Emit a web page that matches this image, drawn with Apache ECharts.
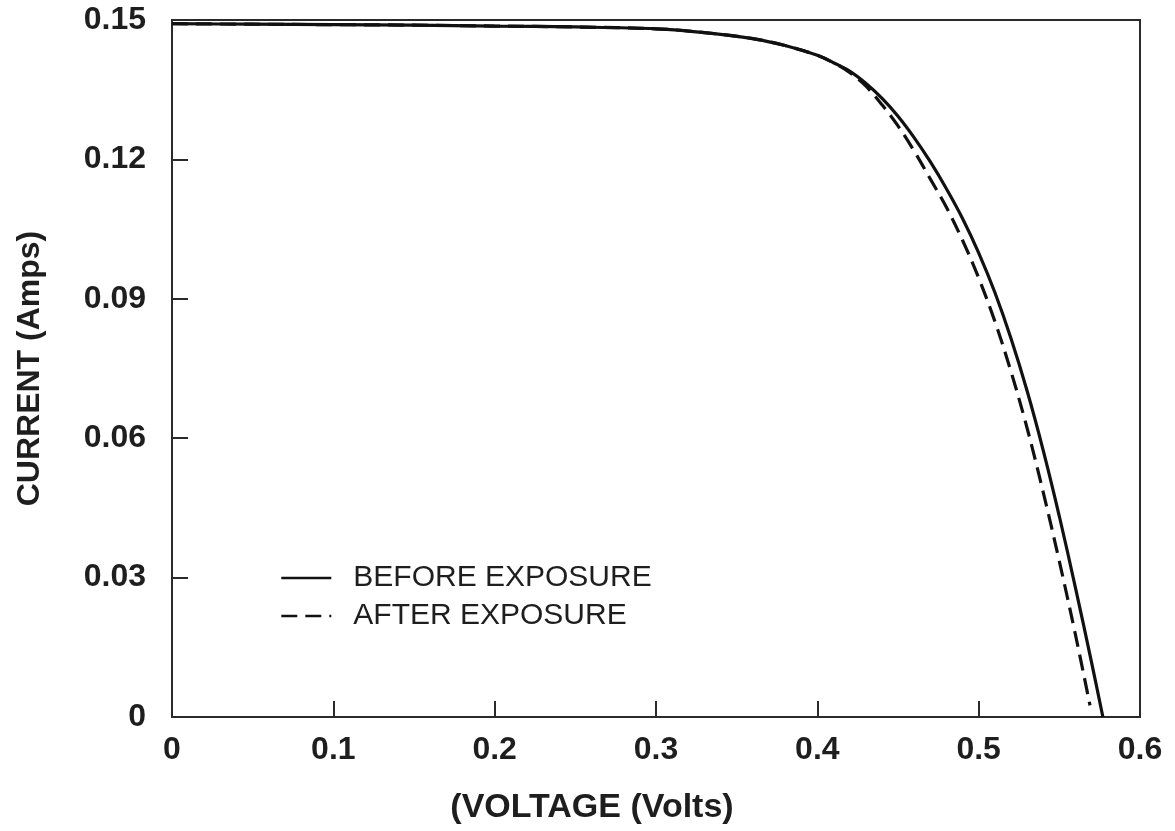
<!DOCTYPE html>
<html>
<head>
<meta charset="utf-8">
<script src="https://cdn.jsdelivr.net/npm/echarts@6/dist/echarts.min.js"></script>
<style>
html,body{margin:0;padding:0;background:#fff;}
#chart{width:1175px;height:831px;}
</style>
</head>
<body>
<div id="chart"></div>
<script>
// Data
const beforeV = [0, 0.05, 0.10, 0.15, 0.20, 0.25, 0.30, 0.33, 0.36, 0.38, 0.40, 0.41, 0.42, 0.43, 0.44, 0.45, 0.46, 0.47, 0.48, 0.49, 0.50, 0.51, 0.52, 0.53, 0.54, 0.55, 0.56, 0.57, 0.577];
const beforeI = [0.1492, 0.1491, 0.1490, 0.1489, 0.1487, 0.1485, 0.1481, 0.1473, 0.1460, 0.1445, 0.1424, 0.1408, 0.1390, 0.1364, 0.1332, 0.1293, 0.1247, 0.1195, 0.1137, 0.1073, 0.0999, 0.0914, 0.0815, 0.0702, 0.0574, 0.0432, 0.0278, 0.0117, 0];
const afterV = [0, 0.05, 0.10, 0.15, 0.20, 0.25, 0.30, 0.33, 0.36, 0.38, 0.40, 0.41, 0.42, 0.43, 0.44, 0.45, 0.46, 0.47, 0.48, 0.49, 0.50, 0.51, 0.52, 0.53, 0.54, 0.55, 0.56, 0.569];
const afterI = [0.1492, 0.1491, 0.1490, 0.1489, 0.1487, 0.1485, 0.1481, 0.1473, 0.1460, 0.1445, 0.1424, 0.1408, 0.1387, 0.1358, 0.1318, 0.1272, 0.1218, 0.1158, 0.1097, 0.1026, 0.0945, 0.0852, 0.0744, 0.0622, 0.0484, 0.0335, 0.0177, 0.0025];
const seriesNames = ['BEFORE EXPOSURE', 'AFTER EXPOSURE'];
const xTicks = ['0', '0.1', '0.2', '0.3', '0.4', '0.5', '0.6'];
const yTicks = ['0', '0.03', '0.06', '0.09', '0.12', '0.15'];
const xTitle = '(VOLTAGE (Volts)';
const yTitle = 'CURRENT (Amps)';

const pair = (xs, ys) => xs.map((x, i) => [x, ys[i]]);
const FONT = '"Liberation Sans", Arial, Helvetica, sans-serif';
const TXT = '#1e1e1e';
const LINE = '#111111';

const chart = echarts.init(document.getElementById('chart'), null, {renderer: 'canvas'});
chart.setOption({
  backgroundColor: '#ffffff',
  animation: false,
  grid: {left: 172, right: 35, top: 20, bottom: 114, show: true, borderColor: '#2a2a2a', borderWidth: 2, backgroundColor: 'transparent'},
  legend: {
    data: seriesNames,
    orient: 'vertical',
    left: 280,
    top: 563,
    padding: 0,
    itemWidth: 50,
    itemHeight: 14,
    itemGap: 8,
    itemStyle: {opacity: 0},
    lineStyle: {width: 2.6},
    textStyle: {fontFamily: FONT, fontSize: 30, color: TXT, padding: [0, 0, 0, 17], lineHeight: 30},
    inactiveColor: '#999'
  },
  xAxis: {
    type: 'value', min: 0, max: 0.6, interval: 0.1,
    name: xTitle, nameLocation: 'middle', nameGap: 74,
    nameTextStyle: {fontFamily: FONT, fontSize: 34, fontWeight: 'bold', color: TXT, padding: [0, 128, 0, 0]},
    axisLine: {show: true, lineStyle: {color: '#2a2a2a', width: 2}},
    axisTick: {show: true, inside: true, length: 16, lineStyle: {color: '#2a2a2a', width: 2}},
    axisLabel: {fontFamily: FONT, fontSize: 32, fontWeight: 'bold', color: TXT, margin: 17,
      formatter: (v) => xTicks[Math.round(v * 10)] || ''},
    splitLine: {show: false}
  },
  yAxis: {
    type: 'value', min: 0, max: 0.15, interval: 0.03,
    name: yTitle, nameLocation: 'middle', nameGap: 126, nameRotate: 90,
    nameTextStyle: {fontFamily: FONT, fontSize: 32, fontWeight: 'bold', color: TXT},
    axisLine: {show: true, lineStyle: {color: '#2a2a2a', width: 2}},
    axisTick: {show: true, inside: true, length: 16, lineStyle: {color: '#2a2a2a', width: 2}},
    axisLabel: {fontFamily: FONT, fontSize: 32, fontWeight: 'bold', color: TXT, margin: 26,
      formatter: (v) => yTicks[Math.round(v / 0.03)] || ''},
    splitLine: {show: false}
  },
  series: [
    {
      name: seriesNames[1], type: 'line', data: pair(afterV, afterI),
      showSymbol: false, symbol: 'none', smooth: 0.35, z: 2,
      lineStyle: {color: LINE, width: 3.2, type: [16, 8]},
      itemStyle: {color: LINE}
    },
    {
      name: seriesNames[0], type: 'line', data: pair(beforeV, beforeI),
      showSymbol: false, symbol: 'none', smooth: 0.35, z: 3,
      lineStyle: {color: LINE, width: 3.2, type: 'solid'},
      itemStyle: {color: LINE}
    }
  ]
});
</script>
</body>
</html>
